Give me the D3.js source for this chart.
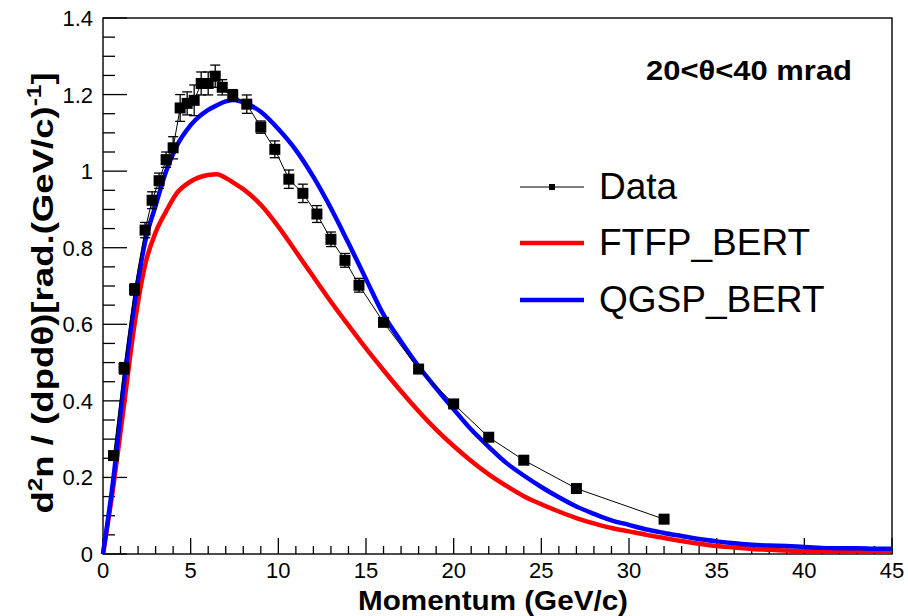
<!DOCTYPE html>
<html>
<head>
<meta charset="utf-8">
<script src="https://cdn.jsdelivr.net/npm/d3@7"></script>
<style>
  html, body { margin: 0; padding: 0; background: #fff; }
  svg { display: block; font-family: "Liberation Sans", Arial, Helvetica, sans-serif; }
</style>
</head>
<body>
<svg id="chart" width="908" height="616"></svg>
<script>
// ---- Data ----
const dataMomentum = [0.6, 1.2, 1.8, 2.4, 2.8, 3.2, 3.6, 4.0, 4.4, 4.8, 5.2, 5.6, 6.0, 6.4, 6.8, 7.4, 8.2, 9.0, 9.8, 10.6, 11.4, 12.2, 13.0, 13.8, 14.6, 16.0, 18.0, 20.0, 22.0, 24.0, 27.0, 32.0];
const dataValues   = [0.257, 0.485, 0.691, 0.846, 0.924, 0.975, 1.030, 1.061, 1.165, 1.177, 1.185, 1.229, 1.229, 1.248, 1.219, 1.198, 1.175, 1.115, 1.057, 0.979, 0.942, 0.888, 0.822, 0.767, 0.702, 0.605, 0.483, 0.392, 0.305, 0.245, 0.171, 0.091];
const dataErrors   = [0.010, 0.015, 0.015, 0.020, 0.022, 0.020, 0.020, 0.029, 0.035, 0.030, 0.040, 0.030, 0.030, 0.029, 0.020, 0.015, 0.024, 0.016, 0.022, 0.024, 0.024, 0.022, 0.019, 0.018, 0.018, 0.010, 0.008, 0.008, 0.007, 0.006, 0.006, 0.005];

const modelMomentum = [0, 0.6, 1.2, 1.8, 2.4, 3.0, 3.6, 4.2, 5, 6, 6.5, 7, 7.5, 8, 9, 10, 11, 12, 13, 14, 15, 16, 17, 18, 19, 20, 21, 22, 23, 24, 25, 26, 27, 28, 29, 30, 31, 32, 33, 34, 35, 36, 37, 38, 39, 40, 41, 42, 43, 44, 45];
const ftfpValues = [0, 0.18, 0.39, 0.60, 0.755, 0.84, 0.895, 0.942, 0.973, 0.990, 0.992, 0.982, 0.968, 0.953, 0.912, 0.855, 0.790, 0.724, 0.659, 0.597, 0.537, 0.480, 0.425, 0.373, 0.325, 0.282, 0.243, 0.208, 0.178, 0.151, 0.130, 0.111, 0.094, 0.080, 0.068, 0.059, 0.050, 0.042, 0.034, 0.027, 0.021, 0.017, 0.013, 0.011, 0.009, 0.008, 0.008, 0.008, 0.008, 0.008, 0.008];
const qgspValues = [0, 0.20, 0.45, 0.655, 0.815, 0.91, 1.00, 1.065, 1.12, 1.16, 1.172, 1.182, 1.186, 1.180, 1.155, 1.110, 1.055, 0.985, 0.903, 0.812, 0.718, 0.625, 0.555, 0.490, 0.433, 0.378, 0.325, 0.280, 0.238, 0.205, 0.175, 0.148, 0.124, 0.105, 0.088, 0.076, 0.064, 0.055, 0.047, 0.039, 0.033, 0.028, 0.024, 0.022, 0.021, 0.018, 0.016, 0.015, 0.015, 0.014, 0.014];

const xTickValues = [0, 5, 10, 15, 20, 25, 30, 35, 40, 45];
const yTickValues = [0, 0.2, 0.4, 0.6, 0.8, 1, 1.2, 1.4];
const legendLabels = ["Data", "FTFP_BERT", "QGSP_BERT"];
const legendColors = ["#000000", "#ff0000", "#0000ff"];

// ---- Layout ----
const svg = d3.select("#chart");
const pLeft = 103, pRight = 892, pTop = 18, pBottom = 554;
const x = d3.scaleLinear().domain([0, 45]).range([pLeft, pRight]);
const y = d3.scaleLinear().domain([0, 1.4]).range([pBottom, pTop]);

// Frame
svg.append("rect").attr("x", pLeft).attr("y", pTop).attr("width", pRight - pLeft).attr("height", pBottom - pTop)
  .attr("fill", "none").attr("stroke", "#000").attr("stroke-width", 1.4);

// Axes ticks (inside)
const xMinor = d3.range(0, 46, 1);
svg.append("g").selectAll("line").data(xMinor).join("line")
  .attr("x1", d => x(d)).attr("x2", d => x(d))
  .attr("y1", pBottom).attr("y2", d => pBottom - (d % 5 === 0 ? 16 : 8))
  .attr("stroke", "#000").attr("stroke-width", 1.3);
svg.append("g").attr("font-size", 22).selectAll("text").data(xTickValues).join("text")
  .attr("x", d => x(d)).attr("y", 578).attr("text-anchor", "middle").text(d => d3.format("")(d));

const yMinor = d3.range(0, 29).map(i => i * 0.05);
svg.append("g").selectAll("line").data(yMinor).join("line")
  .attr("x1", pLeft).attr("x2", (d, i) => pLeft + (i % 4 === 0 ? 24 : 12))
  .attr("y1", d => y(d)).attr("y2", d => y(d))
  .attr("stroke", "#000").attr("stroke-width", 1.3);
svg.append("g").attr("font-size", 22).selectAll("text").data(yTickValues).join("text")
  .attr("x", 93).attr("y", d => y(d) + 8).attr("text-anchor", "end").text(d => d3.format("")(d));

// Axis titles
svg.append("text").attr("x", 493).attr("y", 610).attr("text-anchor", "middle")
  .attr("font-weight", "bold").attr("font-size", 28).attr("textLength", 270).attr("lengthAdjust", "spacingAndGlyphs")
  .text("Momentum (GeV/c)");

const yt = svg.append("text").attr("transform", "translate(53,293) rotate(-90) scale(1.22,1)")
  .attr("text-anchor", "middle").attr("font-weight", "bold").attr("font-size", 30);
yt.append("tspan").text("d");
yt.append("tspan").attr("dy", -11).attr("font-size", 20).text("2");
yt.append("tspan").attr("dy", 11).text("n / (dpd\u03B8)[rad.(GeV/c)");
yt.append("tspan").attr("dy", -12).attr("font-size", 20).text("-1");
yt.append("tspan").attr("dy", 12).text("]");

// Annotation
svg.append("text").attr("x", 646).attr("y", 80).attr("font-weight", "bold").attr("font-size", 27)
  .attr("textLength", 206).attr("lengthAdjust", "spacingAndGlyphs")
  .text("20<\u03B8<40 mrad");

// Model curves
const line = d3.line().x(d => x(d[0])).y(d => y(d[1])).curve(d3.curveMonotoneX);
svg.append("path").datum(modelMomentum.map((m, i) => [m, ftfpValues[i]]))
  .attr("d", line).attr("fill", "none").attr("stroke", legendColors[1]).attr("stroke-width", 4.5);
svg.append("path").datum(modelMomentum.map((m, i) => [m, qgspValues[i]]))
  .attr("d", line).attr("fill", "none").attr("stroke", legendColors[2]).attr("stroke-width", 4.5);

// Data
const dataLine = d3.line().x(d => x(d[0])).y(d => y(d[1]));
const pts = dataMomentum.map((m, i) => ({ m, v: dataValues[i], e: dataErrors[i] }));
svg.append("path").datum(pts.map(p => [p.m, p.v])).attr("d", dataLine)
  .attr("fill", "none").attr("stroke", "#000").attr("stroke-width", 1);
const eg = svg.append("g").attr("stroke", "#000").attr("stroke-width", 1.3);
pts.forEach(p => {
  eg.append("line").attr("x1", x(p.m)).attr("x2", x(p.m)).attr("y1", y(p.v - p.e)).attr("y2", y(p.v + p.e));
  [p.v - p.e, p.v + p.e].forEach(v => {
    eg.append("line").attr("x1", x(p.m) - 5).attr("x2", x(p.m) + 5).attr("y1", y(v)).attr("y2", y(v));
  });
});
const ms = 11;
svg.append("g").selectAll("rect").data(pts).join("rect")
  .attr("x", p => x(p.m) - ms / 2).attr("y", p => y(p.v) - ms / 2)
  .attr("width", ms).attr("height", ms).attr("fill", "#000");

// Legend
const lg = svg.append("g");
const legY = [187, 243, 300];
legendLabels.forEach((lab, i) => {
  lg.append("line").attr("x1", 520).attr("x2", 584).attr("y1", legY[i]).attr("y2", legY[i])
    .attr("stroke", legendColors[i]).attr("stroke-width", i === 0 ? 1.2 : 4.5);
  if (i === 0) {
    lg.append("rect").attr("x", 552 - 3).attr("y", legY[i] - 3).attr("width", 6).attr("height", 6).attr("fill", "#000");
  }
  lg.append("text").attr("x", 599).attr("y", legY[i] + 12).attr("font-size", 37).text(lab);
});
</script>
</body>
</html>
